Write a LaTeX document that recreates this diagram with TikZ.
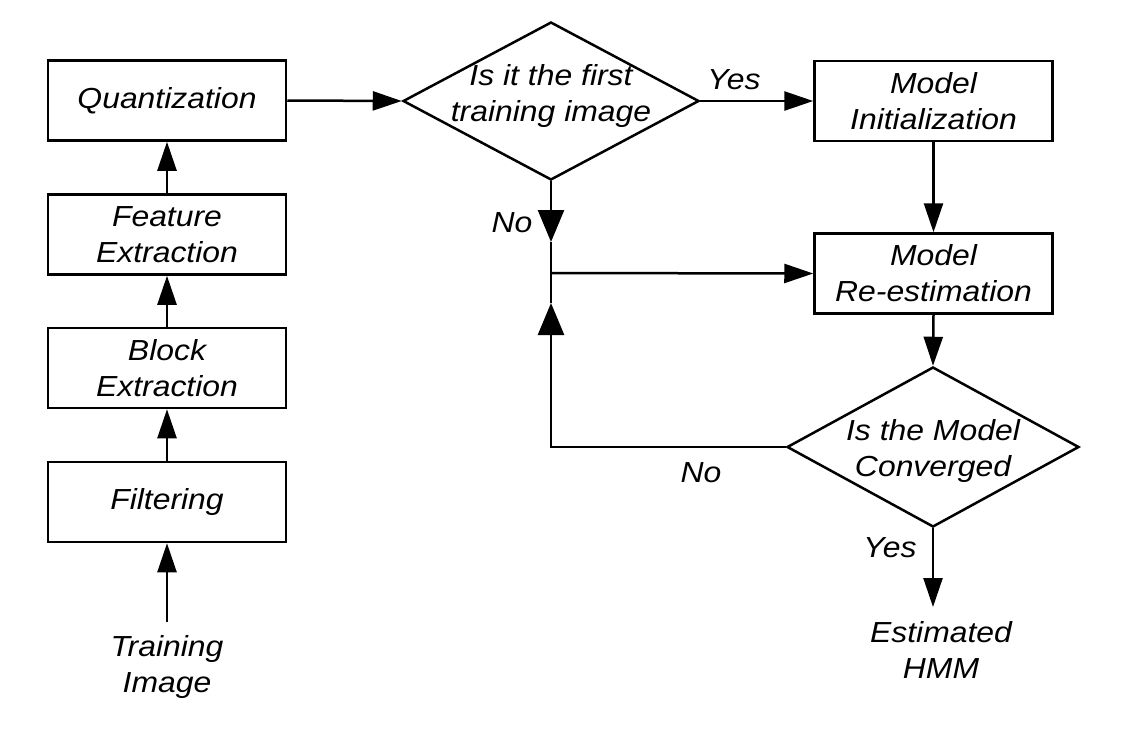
\documentclass[tikz,border=0pt]{standalone}
\usepackage{fontspec}
\setmainfont{Liberation Sans}[FakeStretch=1.1]
\usetikzlibrary{arrows.meta,shapes.geometric}
\begin{document}
\begin{tikzpicture}[x=1pt,y=-1pt,
  lbl/.style={font=\fontsize{29}{36}\selectfont\itshape,align=center,inner sep=0pt},
  box/.style={lbl,draw,line width=2.5pt,minimum width=238pt,minimum height=80pt},
  dia/.style={draw,diamond,line width=2.5pt,minimum width=296pt,minimum height=158pt,inner sep=0pt},
  arr/.style={line width=2.5pt,-{Triangle[length=29pt,width=19pt]}},
  bigarr/.style={line width=2.5pt,-{Triangle[length=32pt,width=26pt]}},
  ln/.style={line width=2.5pt}]
\useasboundingbox (0,0) rectangle (1135,729);
% left column
\node[box] (quant) at (167,100.5) {Quantization};
\node[box] (feat) at (167,234.5) {Feature\\Extraction};
\node[box] (block) at (167,368) {Block\\Extraction};
\node[box] (filt) at (167,502) {Filtering};
\node[lbl,inner ysep=13pt,anchor=north] (train) at (167,622) {Training\\Image};
\draw[arr] (train.north) -- (filt.south);
\draw[arr] (filt.north) -- (block.south);
\draw[arr] (block.north) -- (feat.south);
\draw[arr] (feat.north) -- (quant.south);
% first decision
\node[dia] (d1) at (551,101) {};
\node[lbl] (d1t) at (551,96) {Is it the first\\training image};
\draw[arr] (quant.east) -- (d1.west);
% right column
\node[box] (init) at (933.5,101) {Model\\Initialization};
\node[box] (reest) at (933.5,273.5) {Model\\Re-estimation};
\draw[arr] (d1.east) -- (init.west);
\node[lbl] (yes1) at (734,80) {Yes};
\draw[arr] (init.south) -- (reest.north);
% second decision
\node[dia,minimum width=292pt,minimum height=160pt] (d2) at (933,447) {};
\node[lbl] (d2t) at (933,451) {Is the Model\\Converged};
\draw[arr] (reest.south) -- (d2.north);
% junction
\coordinate (jn) at (551,273);
\coordinate (jt) at (551,242);
\coordinate (jb) at (551,303);
\coordinate (lc) at (551,447);
\draw[bigarr] (d1.south) -- (jt);
\draw[ln] (jt) -- (jn);
\draw[bigarr] (d2.west) -- (lc) -- (jb);
\draw[ln] (jb) -- (jn);
\draw[arr] (jn) -- (reest.west);
\node[lbl] (no1) at (512,223) {No};
\node[lbl] (no2) at (701,473) {No};
% output
\node[lbl,inner ysep=14pt,anchor=north] (hmm) at (941,607) {Estimated\\HMM};
\draw[arr] (d2.south) -- (d2.south |- hmm.north);
\node[lbl] (yes2) at (890,548) {Yes};
\end{tikzpicture}
\end{document}
